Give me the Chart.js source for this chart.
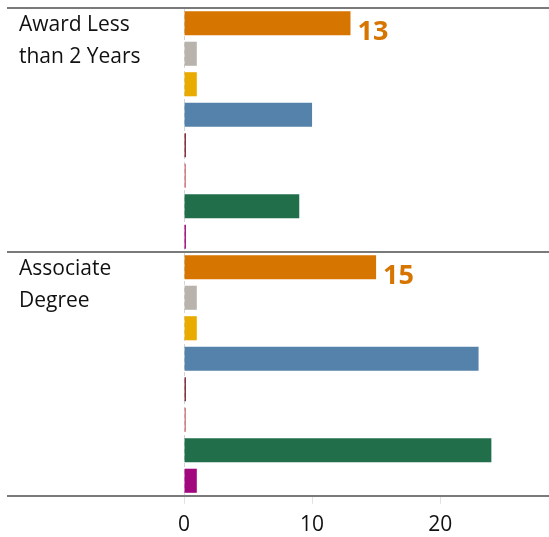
<!DOCTYPE html>
<html>
<head>
<meta charset="utf-8">
<script src="https://cdn.jsdelivr.net/npm/chart.js@4.4.0/dist/chart.umd.min.js"></script>
<style>
    html, body { margin: 0; padding: 0; background: #fff; }
    #wrap { width: 549px; height: 537px; position: relative; }
</style>
</head>
<body>
<div id="wrap"><canvas id="awardChart"></canvas></div>
<script>
// Categories (multi-line labels)
const categories = [['Award Less', 'than 2 Years'], ['Associate', 'Degree']];

// Series values, one per category
const seriesOrange = [13, 15];
const seriesGray = [1, 1];
const seriesYellow = [1, 1];
const seriesBlue = [10, 23];
const seriesDarkRed = [0.15, 0.15];
const seriesPink = [0.15, 0.15];
const seriesGreen = [9, 24];
const seriesPurple = [0.15, 1];

// X axis tick values
const xTicks = [0, 10, 20];

const orange = '#D67500';

// Value label on the first series only
const valueLabels = {
    id: 'valueLabels',
    afterDatasetsDraw(chart) {
        const ctx = chart.ctx;
        const meta = chart.getDatasetMeta(0);
        ctx.save();
        ctx.font = 'bold 27px "Open Sans"';
        ctx.fillStyle = orange;
        ctx.textAlign = 'left';
        ctx.textBaseline = 'middle';
        meta.data.forEach((bar, i) => {
            ctx.fillText(String(seriesOrange[i]), bar.x + 7, bar.y + 9);
        });
        ctx.restore();
    }
};

function makeSet(data, color) {
    return { data: data, backgroundColor: color, borderWidth: 0 };
}

new Chart(document.getElementById('awardChart'), {
    type: 'bar',
    data: {
        labels: categories,
        datasets: [
            makeSet(seriesOrange, orange),
            makeSet(seriesGray, '#B8B3AC'),
            makeSet(seriesYellow, '#EAAB00'),
            makeSet(seriesBlue, '#5482AB'),
            makeSet(seriesDarkRed, '#7B2530'),
            makeSet(seriesPink, '#D07A80'),
            makeSet(seriesGreen, '#216E4B'),
            makeSet(seriesPurple, '#A3077E')
        ]
    },
    options: {
        indexAxis: 'y',
        responsive: true,
        maintainAspectRatio: false,
        animation: false,
        layout: { padding: { left: 19, top: 8, right: 0, bottom: 0 } },
        datasets: { bar: { categoryPercentage: 1, barPercentage: 0.79 } },
        plugins: {
            legend: { display: false },
            tooltip: { enabled: false }
        },
        scales: {
            x: {
                min: 0,
                max: 28.5,
                afterBuildTicks: (scale) => {
                    scale.ticks = xTicks.map(v => ({ value: v }));
                },
                afterFit: (scale) => {
                    scale.height = 41;
                    scale.paddingLeft = 0;
                    scale.paddingRight = 0;
                },
                ticks: {
                    includeBounds: false,
                    color: '#111',
                    padding: 8,
                    font: { family: 'Open Sans', size: 21 }
                },
                grid: {
                    color: (c) => (c.tick && c.tick.value === 0) ? '#d4d4d4' : 'transparent',
                    tickColor: '#e2e2e2',
                    tickLength: 8,
                    tickBorderDash: []
                },
                border: { display: false, dash: [4, 3] }
            },
            y: {
                afterFit: (scale) => {
                    scale.width = 165;
                    scale.paddingTop = 0;
                    scale.paddingBottom = 0;
                },
                ticks: {
                    crossAlign: 'far',
                    labelOffset: -89,
                    color: '#111',
                    font: { family: 'Open Sans', size: 21, lineHeight: 1.52 }
                },
                grid: {
                    offset: true,
                    color: '#7a7a7a',
                    lineWidth: 2,
                    tickLength: 177
                },
                border: { display: false }
            }
        }
    },
    plugins: [valueLabels]
});
</script>
</body>
</html>
